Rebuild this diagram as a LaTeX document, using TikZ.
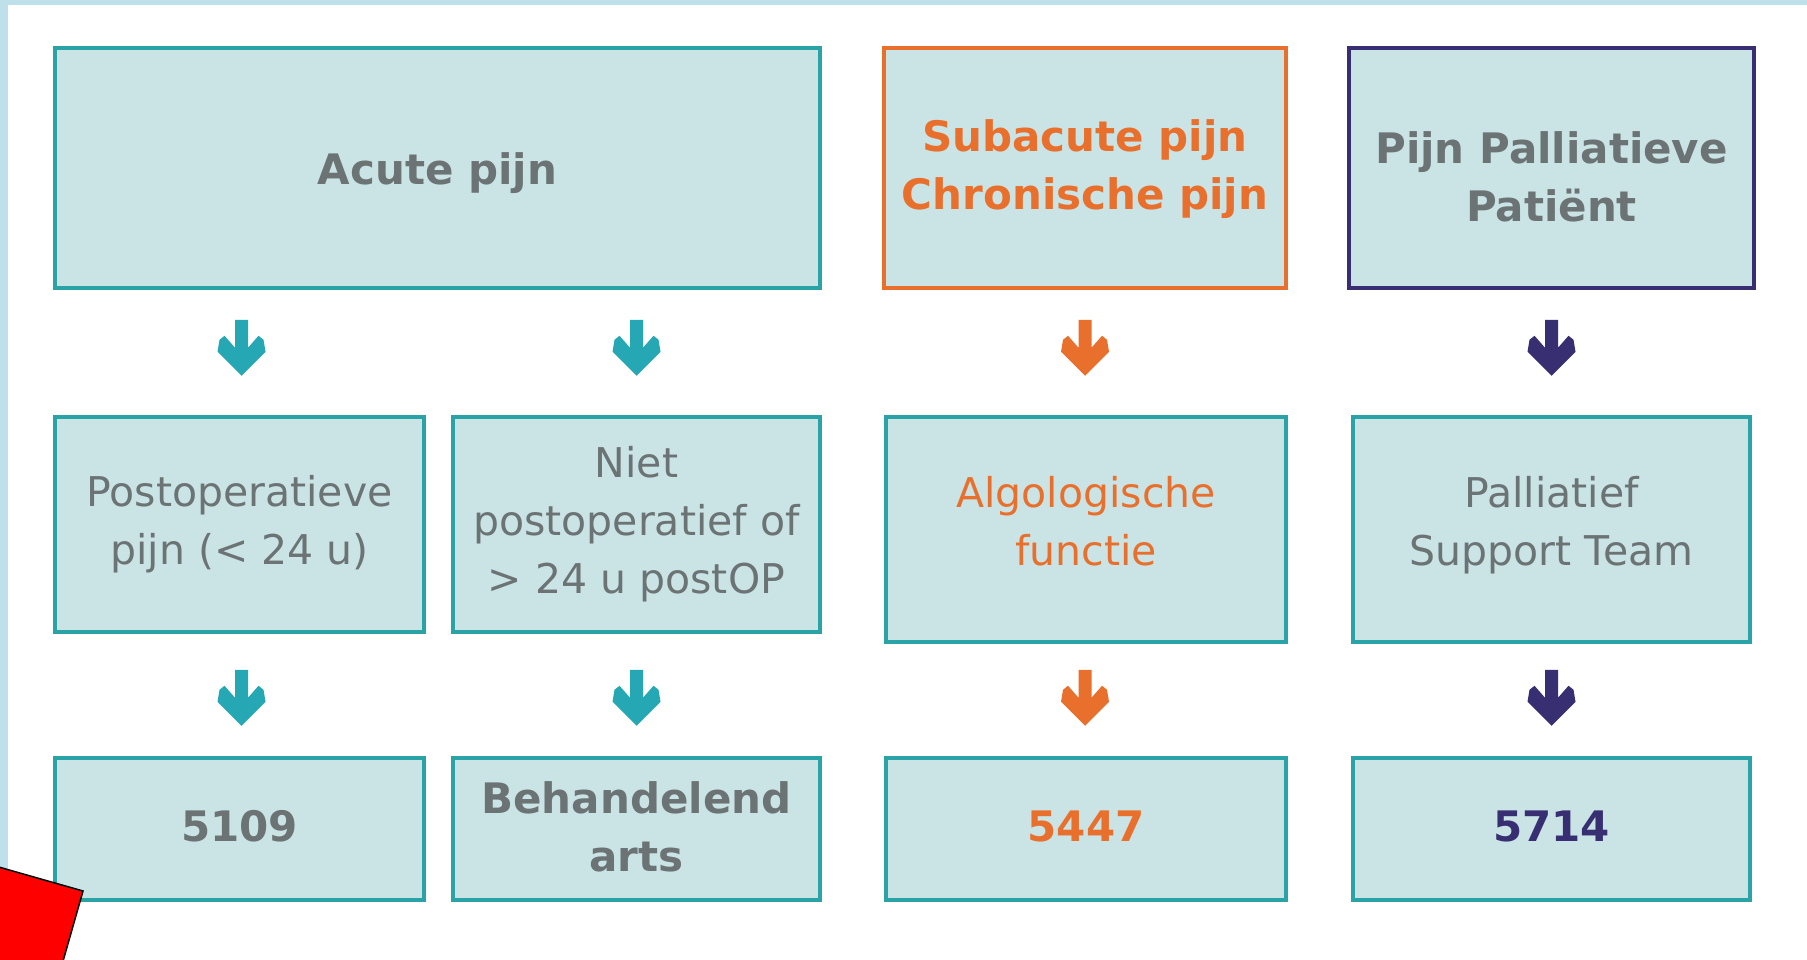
\documentclass[tikz,border=0pt]{standalone}
\usepackage{fontspec}
\setmainfont{DejaVu Sans}
\usetikzlibrary{calc}
\definecolor{tealb}{HTML}{2AA3A6}
\definecolor{boxfill}{HTML}{CAE4E6}
\definecolor{txtgray}{HTML}{6B7375}
\definecolor{orng}{HTML}{E8702C}
\definecolor{navy}{HTML}{372F72}
\definecolor{arrteal}{HTML}{25A8B4}
\definecolor{strip}{HTML}{BEE0EA}
\begin{document}
\begin{tikzpicture}[x=1pt,y=-1pt,
  box/.style={draw=tealb, line width=4.5pt, fill=boxfill, inner sep=0pt},
  txt/.style={align=center, inner sep=0pt, text=txtgray, font=\fontsize{41}{58}\selectfont},
  boldtxt/.style={txt, font=\fontsize{42}{58}\selectfont\bfseries},
  bigarrow/.pic={\fill (0,0) -- (24,-24) -- (22,-36) -- (17,-40) -- (6.5,-28) -- (6.5,-56)
      -- (-6.5,-56) -- (-6.5,-28) -- (-17,-40) -- (-22,-36) -- (-24,-24) -- cycle;}
]
\useasboundingbox (0,0) rectangle (1807,960);
\clip (0,0) rectangle (1807,960);
\fill[white] (0,0) rectangle (1807,960);
\fill[strip] (0,0) rectangle (8,960);
\fill[strip] (0,0) rectangle (1807,5);

% row 1
\node[box, minimum width=765pt, minimum height=240pt] (acute) at (437.5,168) {};
\node[box, draw=orng, minimum width=402pt, minimum height=240pt] (sub) at (1085,168) {};
\node[box, draw=navy, minimum width=405pt, minimum height=240pt] (pal) at (1551.5,168) {};
\node[boldtxt] (acute-t) at ($(acute.center)+(0,5)$) {Acute pijn};
\node[boldtxt, text=orng] (sub-t) at ($(sub.center)+(0,1)$) {Subacute pijn\\Chronische pijn};
\node[boldtxt] (pal-t) at ($(pal.center)+(0,9)$) {Pijn Palliatieve\\Patiënt};

% row 2
\node[box, minimum width=369pt, minimum height=215pt] (post) at (239.5,524.5) {};
\node[box, minimum width=367pt, minimum height=215pt] (niet) at (636.5,524.5) {};
\node[box, minimum width=400pt, minimum height=225pt] (algo) at (1086,529.5) {};
\node[box, minimum width=397pt, minimum height=225pt] (pst) at (1551.5,529.5) {};
\node[txt] (post-t) at (post.center) {Postoperatieve\\pijn (< 24 u)};
\node[txt] (niet-t) at (niet.center) {Niet\\postoperatief of\\> 24 u postOP};
\node[txt, text=orng] (algo-t) at ($(algo.center)+(0,-8)$) {Algologische\\functie};
\node[txt] (pst-t) at ($(pst.center)+(0,-4)$) {Palliatief\\Support Team};

% row 3
\node[box, minimum width=369pt, minimum height=142pt] (n5109) at (239.5,829) {};
\node[box, minimum width=367pt, minimum height=142pt] (beh) at (636.5,829) {};
\node[box, minimum width=400pt, minimum height=142pt] (n5447) at (1086,829) {};
\node[box, minimum width=397pt, minimum height=142pt] (n5714) at (1551.5,829) {};
\node[boldtxt] (n5109-t) at ($(n5109.center)+(0,-3)$) {5109};
\node[boldtxt] (beh-t) at ($(beh.center)+(0,-2)$) {Behandelend\\arts};
\node[boldtxt, text=orng] (n5447-t) at ($(n5447.center)+(0,-3)$) {5447};
\node[boldtxt, text=navy] (n5714-t) at ($(n5714.center)+(0,-3)$) {5714};

% arrows
\pic[fill=arrteal] at ($(post.north)+(2,-39)$) {bigarrow};
\pic[fill=arrteal] at ($(niet.north)+(0,-39)$) {bigarrow};
\pic[fill=orng] at ($(algo.north)+(-1,-39)$) {bigarrow};
\pic[fill=navy] at ($(pst.north)+(0,-39)$) {bigarrow};
\pic[fill=arrteal] at ($(n5109.north)+(2,-30)$) {bigarrow};
\pic[fill=arrteal] at ($(beh.north)+(0,-30)$) {bigarrow};
\pic[fill=orng] at ($(n5447.north)+(-1,-30)$) {bigarrow};
\pic[fill=navy] at ($(n5714.north)+(0,-30)$) {bigarrow};

% red marker
\filldraw[fill=red, draw=black, line width=1.5pt] (83,891) -- (-61,850) -- (-102,994) -- (42,1035) -- cycle;
\end{tikzpicture}
\end{document}
